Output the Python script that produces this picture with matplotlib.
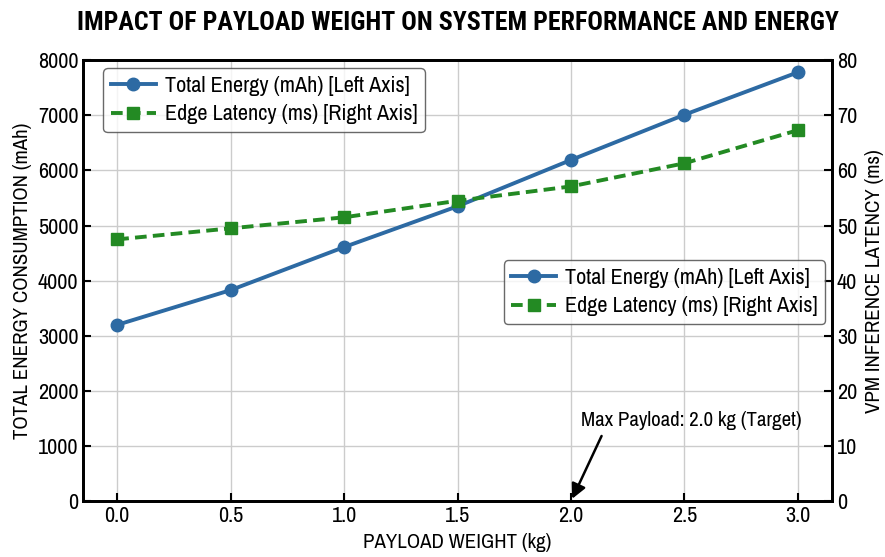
import numpy as np
import matplotlib.pyplot as plt

plt.rcParams['font.family'] = ['Archivo Narrow', 'DejaVu Sans']

payload = [0.0, 0.5, 1.0, 1.5, 2.0, 2.5, 3.0]
energy = [3200, 3830, 4610, 5350, 6190, 7010, 7780]
latency = [47.5, 49.5, 51.5, 54.5, 57.1, 61.3, 67.3]

blue = '#2d6aa3'
green = '#238a23'

fig = plt.figure(figsize=(8.85, 5.57), dpi=100)
ax1 = fig.add_axes([0.094, 0.100, 0.846, 0.792])
ax2 = ax1.twinx()

l1, = ax1.plot(payload, energy, '-o', color=blue, lw=2.8, ms=9,
               label='Total Energy (mAh) [Left Axis]')
l2, = ax2.plot(payload, latency, '--s', color=green, lw=2.8, ms=8,
               dashes=(3.0, 1.6), label='Edge Latency (ms) [Right Axis]')

ax1.set_xlim(-0.15, 3.15)
ax1.set_ylim(0, 8000)
ax2.set_ylim(0, 80)
ax1.set_xticks(payload)
ax1.set_xticklabels(['%.1f' % p for p in payload])
ax1.set_yticks(np.arange(0, 8001, 1000))
ax2.set_yticks(np.arange(0, 81, 10))

ax1.grid(True, color='#cccccc', lw=1)
ax1.set_axisbelow(True)

for ax in (ax1, ax2):
    ax.tick_params(direction='in', length=6, width=1.5, labelsize=16)
    for s in ax.spines.values():
        s.set_linewidth(2)

ax1.set_xlabel('PAYLOAD WEIGHT (kg)', fontsize=15, labelpad=5)
ax1.set_ylabel('TOTAL ENERGY CONSUMPTION (mAh)', fontsize=15, labelpad=4)
ax2.set_ylabel('VPM INFERENCE LATENCY (ms)', fontsize=15, labelpad=6)
ax1.set_title('IMPACT OF PAYLOAD WEIGHT ON SYSTEM PERFORMANCE AND ENERGY',
              fontsize=18.6, fontweight='bold', family='Roboto Condensed',
              pad=22)

ax1.annotate('', xy=(2.0, 0), xytext=(2.14, 1230),
             arrowprops=dict(arrowstyle='-|>', color='black', lw=1.8,
                             mutation_scale=22))
ax1.text(2.53, 1470, 'Max Payload: 2.0 kg (Target)', fontsize=15,
         ha='center', va='center')

handles = [l1, l2]
labels = [h.get_label() for h in handles]
ax1.legend(handles, labels, loc='upper left', bbox_to_anchor=(0.027, 0.982),
           fontsize=16, frameon=True, edgecolor='#444444', fancybox=True,
           handlelength=2.0, borderpad=0.35, labelspacing=0.38,
           handletextpad=0.4, borderaxespad=0)
ax2.legend(handles, labels, loc='center right', bbox_to_anchor=(0.991, 0.474),
           fontsize=16, frameon=True, edgecolor='#444444', fancybox=True,
           handlelength=2.0, borderpad=0.35, labelspacing=0.38,
           handletextpad=0.4, borderaxespad=0)

fig.savefig('out.png', dpi=100)
